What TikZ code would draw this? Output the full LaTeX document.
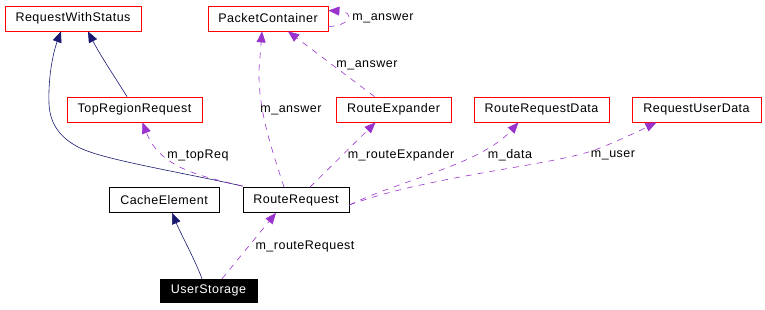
\documentclass[tikz,border=0pt]{standalone}
\usepackage{fontspec}
\setmainfont{Liberation Sans}[LetterSpace=4]
\usetikzlibrary{arrows.meta}
\definecolor{edgeblue}{HTML}{191970}
\definecolor{edgepurple}{HTML}{9A32CD}
\begin{document}
\begin{tikzpicture}[x=1pt,y=-1pt,
  font=\fontsize{12.5}{14}\selectfont,
  cls/.style={draw=#1, line width=0.8pt, inner sep=0pt, minimum height=25pt, fill=white},
  inherit/.style={draw=edgeblue, line width=0.6pt, -{Triangle[length=11pt,width=9pt]}},
  uses/.style={draw=edgepurple, line width=0.6pt, dash pattern=on 6pt off 6pt, -{Triangle[length=11pt,width=9pt]}},
  lbl/.style={inner sep=0pt}]
\useasboundingbox (0,0) rectangle (765,309);

% classes
\node[cls=red, minimum width=136pt] (rws) at (73,18.5) {RequestWithStatus};
\node[cls=red, minimum width=120pt] (pc) at (268,18.5) {PacketContainer};
\node[cls=red, minimum width=135pt] (trr) at (134.5,109.5) {TopRegionRequest};
\node[cls=red, minimum width=115pt] (re) at (393.5,109.5) {RouteExpander};
\node[cls=red, minimum width=135pt] (rrd) at (541.5,109.5) {RouteRequestData};
\node[cls=red, minimum width=129pt] (rud) at (696.5,109.5) {RequestUserData};
\node[cls=black, minimum width=110pt] (ce) at (164,200) {CacheElement};
\node[cls=black, minimum width=106pt] (rr) at (296,200) {RouteRequest};
\node[draw=black, fill=black, text=white, inner sep=0pt, minimum width=97pt, minimum height=23pt] (us) at (208.5,290.5) {UserStorage};

% inheritance (solid, blue)
\draw[inherit] ([xshift=-7.5pt]trr.north) .. controls (118,82) and (100,55) .. ([xshift=15pt]rws.south);
\draw[inherit] ([yshift=1pt]rr.north west) .. controls (180,172) and (105,160) .. (80,148)
  .. controls (60,138) and (50,124) .. (49,104) .. controls (48,74) and (54,50) .. ([xshift=-12pt]rws.south);
\draw[inherit] ([xshift=-6.5pt]us.north) .. controls (196,262) and (180,232) .. ([xshift=8pt]ce.south);

% usage (dashed, purple)
\draw[uses] ([yshift=1pt]rr.north west) .. controls (200,176) and (160,168) .. ([xshift=8pt]trr.south);
\draw[uses] ([xshift=-12pt]rr.north) .. controls (272,150) and (258,110) .. (259,70) -- ([xshift=-6pt]pc.south);
\draw[uses] ([xshift=-19pt]re.north) -- ([xshift=20pt]pc.south);
\draw[uses] ([yshift=-8pt]pc.east) .. controls (350,26) and (356,12) .. ([yshift=8pt]pc.east);
\draw[uses] ([xshift=14pt]rr.north) -- ([xshift=-18pt]re.south);
\draw[uses] ([yshift=-5pt]rr.east) .. controls (400,180) and (480,165) .. ([xshift=-23pt]rrd.south);
\draw[uses] ([yshift=-5pt]rr.east) .. controls (430,175) and (560,165) .. (600,148) .. controls (625,138) and (645,128) .. ([xshift=-40pt]rud.south);
\draw[uses] ([xshift=13.5pt]us.north) -- ([xshift=-20pt]rr.south);

% role labels
\node[lbl] (l1) at (383,18) {m\_answer};
\node[lbl] (l2) at (367,65) {m\_answer};
\node[lbl] (l3) at (291,110) {m\_answer};
\node[lbl] (l4) at (198,155) {m\_topReq};
\node[lbl] (l5) at (401,155) {m\_routeExpander};
\node[lbl] (l6) at (510,155) {m\_data};
\node[lbl] (l7) at (613,155) {m\_user};
\node[lbl] (l8) at (305,246) {m\_routeRequest};
\end{tikzpicture}
\end{document}
